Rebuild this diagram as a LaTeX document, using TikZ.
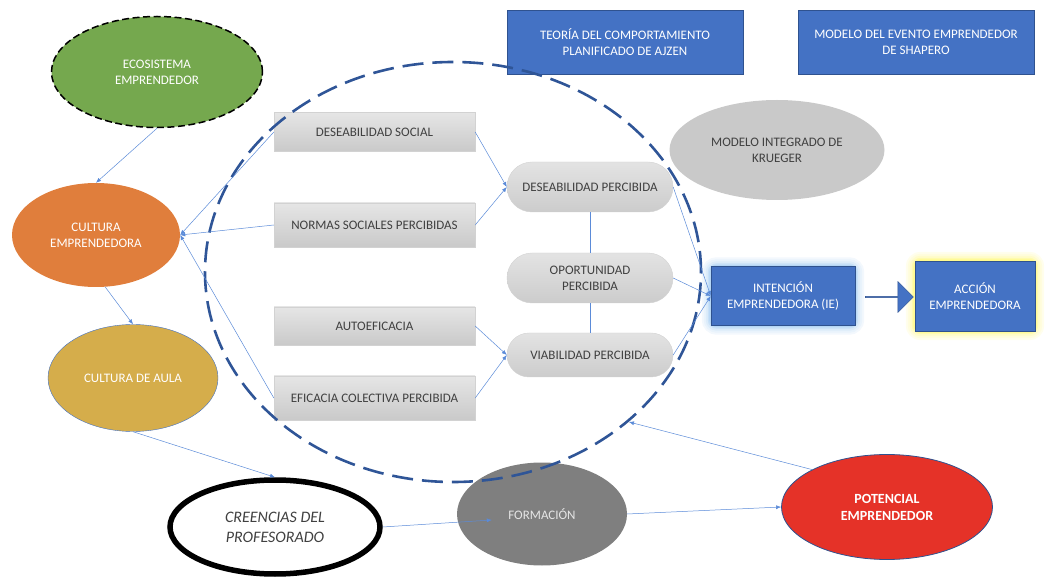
\documentclass[tikz,border=0pt]{standalone}
\usepackage{fontspec}
\setmainfont{Carlito}
\usetikzlibrary{shapes.geometric,shapes.misc,shapes.arrows,arrows.meta,positioning,backgrounds}

\definecolor{ofblue}{HTML}{4472C4}
\definecolor{ofdark}{HTML}{2F528F}
\definecolor{ringblue}{HTML}{2F5597}
\definecolor{linkblue}{HTML}{5B8BD8}
\definecolor{ecogreen}{HTML}{75A84E}
\definecolor{culorange}{HTML}{E07E3C}
\definecolor{aulagold}{HTML}{D5AD4B}
\definecolor{potred}{HTML}{E53228}
\definecolor{formgray}{HTML}{7F7F7F}
\definecolor{kruegray}{HTML}{C9C9C9}
\definecolor{txtgray}{HTML}{404040}
\definecolor{glowblue}{HTML}{9CC8F2}
\definecolor{glowyellow}{HTML}{FFF86A}

\tikzset{
    oval/.style={ellipse, inner sep=0pt, align=center, text=white},
    grybox/.style={rectangle, draw=gray!35, top color=gray!20, bottom color=gray!42,
        text=txtgray, minimum width=201pt, align=center},
    pill/.style={rounded rectangle, draw=gray!35, top color=gray!22, bottom color=gray!40,
        text=txtgray, minimum width=170pt, align=center, inner sep=2pt},
    bluebox/.style={rectangle, fill=ofblue, draw=ofdark, text=white, align=center},
    link/.style={draw=linkblue, line width=0.5pt, -{Latex[length=5pt,width=4pt]}},
}

\begin{document}
\begin{tikzpicture}[x=1pt, y=-1pt, font=\fontsize{13}{16}\selectfont]
    \useasboundingbox (0,0) rectangle (1045,577);

    % ellipses on the left and bottom
    \node[oval, fill=ecogreen, draw=black, line width=1.5pt, dash pattern=on 7pt off 3.5pt,
        minimum width=211pt, minimum height=111pt] (eco) at (157,72) {ECOSISTEMA\\EMPRENDEDOR};
    \node[oval, fill=culorange, minimum width=168pt, minimum height=104pt] (cul) at (96,235) {CULTURA\\EMPRENDEDORA};
    \node[oval, fill=aulagold, draw=ofblue, minimum width=170pt, minimum height=107pt] (aula) at (133,378) {CULTURA DE AULA};
    \node[oval, fill=white, draw=black, line width=5.5pt, text=txtgray, minimum width=210pt, minimum height=94pt,
        font=\fontsize{16}{20}\selectfont\itshape] (cre) at (275,527) {CREENCIAS DEL\\PROFESORADO};
    \node[oval, fill=formgray, text=gray!20, minimum width=170pt, minimum height=103pt] (form) at (542,514) {FORMACIÓN};
    \node[oval, fill=potred, draw=ofdark, line width=0.8pt, minimum width=211pt, minimum height=105pt,
        font=\fontsize{14}{17}\selectfont\bfseries] (pot) at (887,507) {POTENCIAL\\EMPRENDEDOR};
    \node[oval, fill=kruegray, text=txtgray, minimum width=215pt, minimum height=100pt] (krue) at (777,150) {MODELO INTEGRADO DE\\KRUEGER};

    % models on top
    \node[bluebox, minimum width=236pt, minimum height=64pt] (ajzen) at (625,42) {TEORÍA DEL COMPORTAMIENTO\\PLANIFICADO DE AJZEN};
    \node[bluebox, minimum width=236pt, minimum height=64pt] (shap) at (916,42) {MODELO DEL EVENTO EMPRENDEDOR\\DE SHAPERO};

    \node[grybox, minimum height=39pt] (ds) at (374.5,132) {DESEABILIDAD SOCIAL};
    \node[grybox, minimum height=44pt] (nsp) at (374.5,225) {NORMAS SOCIALES PERCIBIDAS};
    \node[grybox, minimum height=38pt] (ae) at (374.5,326) {AUTOEFICACIA};
    \node[grybox, minimum height=44pt] (ecp) at (374.5,398) {EFICACIA COLECTIVA PERCIBIDA};

    \node[pill, minimum height=50pt] (dp) at (590,187) {DESEABILIDAD PERCIBIDA};
    \node[pill, minimum height=50pt] (op) at (590,278) {OPORTUNIDAD\\PERCIBIDA};
    \node[pill, minimum height=44pt] (vp) at (590,355) {VIABILIDAD PERCIBIDA};

    \node[bluebox, minimum width=144pt, minimum height=59pt] (ie) at (783,296) {INTENCIÓN\\EMPRENDEDORA (IE)};
    \node[bluebox, minimum width=120pt, minimum height=70pt] (ac) at (975,296) {ACCIÓN\\EMPRENDEDORA};
    \node[single arrow, fill=ofblue, draw=ofdark, inner sep=0pt, minimum height=48pt, minimum width=31pt,
        single arrow head extend=5pt] (blk) at (889,297) {};

    % soft glow
    \begin{scope}[on background layer]
        \foreach \w/\c in {18/12,14/22,10/35,6/55,3/75} {
            \draw[line width=\w pt, glowblue!\c, rounded corners=6pt] (ie.south west) rectangle (ie.north east);
            \draw[line width=\w pt, glowyellow!\c, rounded corners=6pt] (ac.south west) rectangle (ac.north east);
        }
    \end{scope}

    \draw[ringblue, line width=2.6pt, dash pattern=on 21pt off 9pt] (453,272) ellipse [x radius=248pt, y radius=210pt];
    \coordinate (ring) at (629,422);

    \draw[link] (eco.south) -- (cul.north);
    \draw[link] (ds.west) -- (cul.east);
    \draw[link] (nsp.west) -- (cul.east);
    \draw[link] (ecp.west) -- (cul.east);
    \draw[link] (cul.-80) -- (aula.north);
    \draw[link] (aula.south) -- (cre.north);
    \draw[link] (cre.east) -- ([xshift=35pt,yshift=-6pt]form.west);
    \draw[link] (form.east) -- (pot.west);
    \draw[link] (pot.north west) -- (ring);

    \draw[link] (ds.east) -- (dp.west);
    \draw[link] (nsp.east) -- (dp.west);
    \draw[link] (ae.east) -- (vp.west);
    \draw[link] (ecp.east) -- (vp.west);
    \draw[linkblue, line width=0.5pt] (dp.south) -- (op.north) (op.south) -- (vp.north);
    \draw[link] (dp.east) -- (ie.west);
    \draw[link] (op.east) -- (ie.west);
    \draw[link] (vp.east) -- (ie.west);
\end{tikzpicture}
\end{document}
